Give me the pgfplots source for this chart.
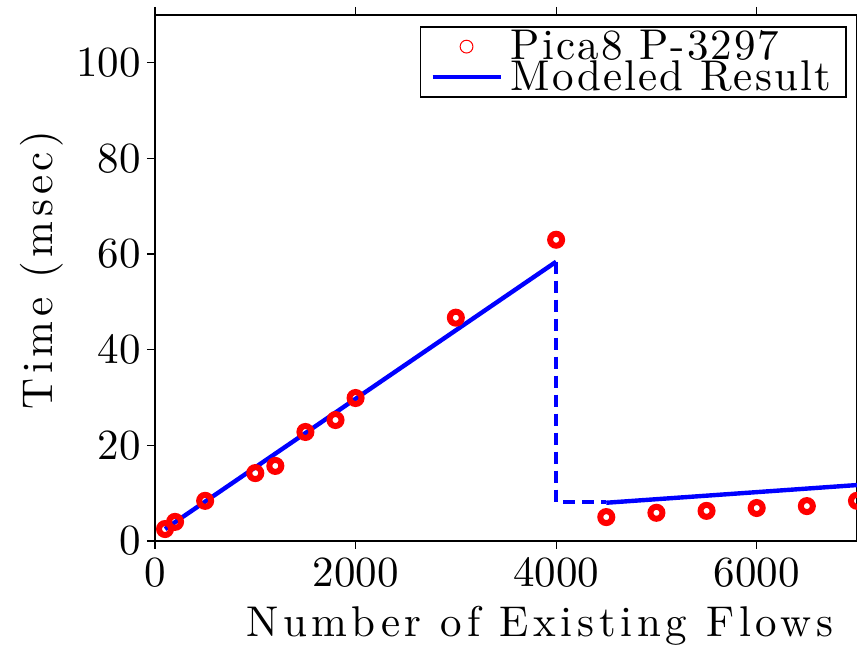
\documentclass[border=0pt]{standalone}
\usepackage{fontspec}
\newfontfamily\lmls[Extension=.otf, LetterSpace=11]{lmroman10-regular}
\newfontfamily\lmleg[Extension=.otf, LetterSpace=5]{lmroman10-regular}
\newfontfamily\lmten[Extension=.otf]{lmroman10-regular}
\usepackage{pgfplots}
\pgfplotsset{compat=1.18}
\newcommand\bigf{\fontsize{21.5}{22}\selectfont}
\newcommand\lsp{\lmls\bigf}
\begin{document}
\begin{tikzpicture}
\begin{axis}[
  at={(0,0)}, anchor=south west,
  scale only axis, width=351pt, height=263pt,
  xmin=0, xmax=7000, ymin=0, ymax=110,
  xtick={0,2000,4000,6000}, ytick={0,20,40,60,80,100},
  tick align=outside, major tick length=4pt,
  axis line style={line width=0.8pt}, every tick/.style={black, line width=0.6pt},
  scaled x ticks=false,
  /pgf/number format/1000 sep={},
  /pgf/number format/assume math mode=true,
  tick label style={font=\lmten\bigf},
  xticklabel style={inner sep=2pt, yshift=-2pt},
  yticklabel style={inner sep=2pt, xshift=-1pt},
  xlabel={\lsp Number of Existing Flows},
  xlabel style={at={(axis description cs:0.5,0)}, anchor=base, yshift=-48pt, xshift=17pt},
  ylabel={\lsp Time (msec)},
  ylabel style={at={(axis description cs:0,0.515)}, anchor=base, yshift=51pt},
  legend style={at={(axis description cs:0.9858,0.979)}, anchor=north east,
    line width=0.8pt, inner xsep=5pt, inner ysep=0.3pt, row sep=-4pt, column sep=2.5pt,
    nodes={inner sep=1.5pt},
    font=\lmleg\bigf, cells={anchor=west}},
  legend cell align=left,
  clip=true,
]
\addplot[only marks, mark=o, mark size=3pt, red, line width=3pt,
  legend image code/.code={\draw[red, line width=0.5pt] (17pt,0pt) circle (3.2pt);}]
  coordinates {
  (100,2.5) (200,4.0) (500,8.4) (1000,14.2) (1200,15.7) (1500,22.8)
  (1800,25.3) (2000,29.9) (3000,46.7) (4000,63.0)
  (4500,5.0) (5000,5.9) (5500,6.3) (6000,6.9) (6500,7.3) (7000,8.4)
  };
\addlegendentry{Pica8 P-3297}
\addplot[blue, line width=2.2pt, mark=none,
  legend image code/.code={\draw[blue, line width=2.2pt] (0pt,0pt) -- (34pt,0pt);}]
  coordinates {(100,2.5) (4000,58.4)};
\addlegendentry{Modeled Result\hspace*{1pt}}
\addplot[blue, line width=2.2pt, mark=none, forget plot]
  coordinates {(4500,8.0) (7000,11.7)};
\addplot[blue, line width=2.2pt, mark=none, dash pattern=on 6pt off 3.5pt, forget plot]
  coordinates {(4000,58.4) (4000,8.2) (4500,8.2)};
\end{axis}
\pgfresetboundingbox
\useasboundingbox (-77.5pt,-53pt) rectangle (351pt,270.5pt);
\end{tikzpicture}
\end{document}
